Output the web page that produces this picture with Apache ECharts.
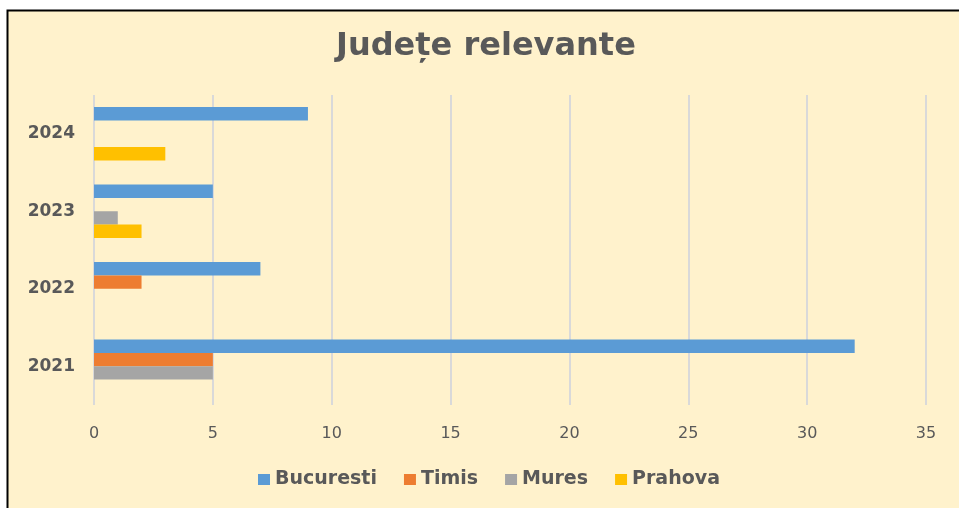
<!DOCTYPE html>
<html>
<head>
<meta charset="utf-8">
<script src="https://cdn.jsdelivr.net/npm/echarts@6/dist/echarts.min.js"></script>
<style>
html,body{margin:0;padding:0;background:#fff;}
#c{width:959px;height:508px;}
</style>
</head>
<body>
<div id="c"></div>
<script>
const years = ['2021', '2022', '2023', '2024'];
const bucuresti = [32, 7, 5, 9];
const timis = [5, 2, 0, 0];
const mures = [5, 0, 1, 0];
const prahova = [0, 0, 2, 3];
const xTicks = [0, 5, 10, 15, 20, 25, 30, 35];
const seriesNames = ['Bucuresti', 'Timis', 'Mures', 'Prahova'];
const seriesColors = ['#5B9BD5', '#ED7D31', '#A5A5A5', '#FFC000'];
const seriesData = [bucuresti, timis, mures, prahova];

const chart = echarts.init(document.getElementById('c'), null, {renderer: 'canvas'});
const txt = '#595959';
chart.setOption({
  backgroundColor: '#ffffff',
  animation: false,
  graphic: [{
    type: 'rect', z: -10, silent: true,
    shape: {x: 7.5, y: 10.5, width: 1000, height: 600},
    style: {fill: '#FFF2CC', stroke: '#000', lineWidth: 2}
  }],
  title: {
    text: 'Județe relevante',
    left: 336, top: 31, padding: 0,
    textStyle: {fontFamily: 'DejaVu Sans', fontWeight: 'bold', fontSize: 32, color: txt}
  },
  legend: {
    data: seriesNames,
    left: 258, top: 470, padding: 0,
    itemWidth: 12, itemHeight: 11, itemGap: 27,
    icon: 'rect',
    textStyle: {fontFamily: 'DejaVu Sans', fontWeight: 'bold', fontSize: 19, color: txt}
  },
  grid: {left: 94, right: 33, top: 95, bottom: 103, containLabel: false},
  xAxis: {
    type: 'value', min: xTicks[0], max: xTicks[xTicks.length - 1], interval: 5,
    axisLine: {show: false}, axisTick: {show: false},
    axisLabel: {color: txt, fontFamily: 'DejaVu Sans', fontSize: 16, margin: 21},
    splitLine: {show: true, lineStyle: {color: '#D9D9D9', width: 2}}
  },
  yAxis: {
    type: 'category', data: years,
    axisLine: {show: false}, axisTick: {show: false},
    axisLabel: {color: txt, fontFamily: 'DejaVu Sans', fontWeight: 'bold', fontSize: 17, margin: 19}
  },
  series: seriesNames.map((n, i) => ({
    name: n, type: 'bar', data: seriesData[i],
    barGap: '0%', barCategoryGap: '31%',
    itemStyle: {color: seriesColors[i]}
  }))
});
</script>
</body>
</html>
